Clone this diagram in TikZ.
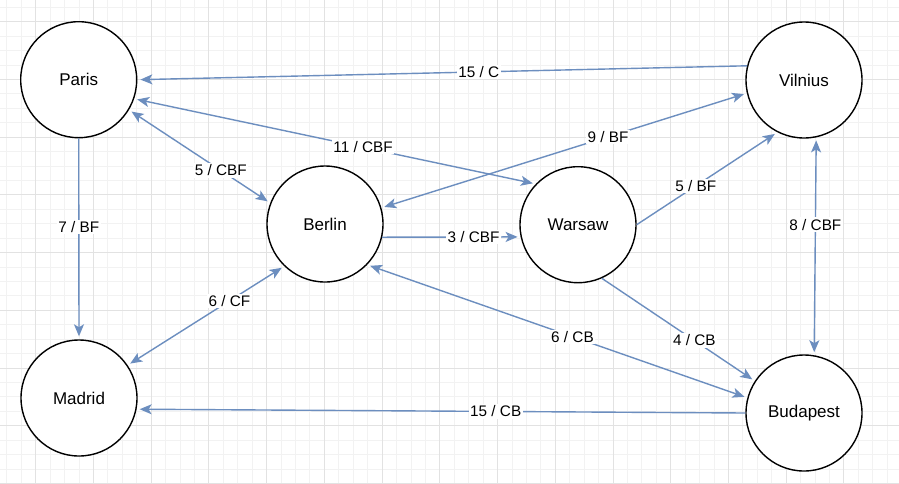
\documentclass[tikz,border=0pt]{standalone}
\usepackage{fontspec}
\setmainfont{Liberation Sans}
\usetikzlibrary{arrows.meta}
\definecolor{edgeblue}{HTML}{6C8EBF}
\definecolor{gridminor}{HTML}{F2F2F2}
\definecolor{gridmajor}{HTML}{E2E2E2}
\begin{document}
\begin{tikzpicture}[x=1pt,y=-1pt,
  city/.style={circle,draw=black,line width=1.4pt,fill=white,minimum size=116pt,inner sep=0pt,font=\fontsize{17}{20}\selectfont},
  tipstyle/.style={},
  link/.style={draw=edgeblue,line width=1.4pt,shorten >=3pt,-{Stealth[length=12pt,width=10pt,inset=3pt]}},
  blink/.style={draw=edgeblue,line width=1.4pt,shorten >=3pt,shorten <=3pt,{Stealth[length=12pt,width=10pt,inset=3pt]}-{Stealth[length=12pt,width=10pt,inset=3pt]}},
  lbl/.style={fill=white,inner sep=1.5pt,font=\fontsize{15.3}{18}\selectfont,text=black}]
\fill[white] (0,0) rectangle (899,483);
\useasboundingbox (0,0) rectangle (899,483);
% grid
\foreach \k in {0,...,61} {
  \pgfmathsetmacro{\xx}{6.86+14.43*\k}
  \draw[gridminor,line width=0.8pt] (\xx,0) -- (\xx,483);
}
\foreach \k in {0,...,33} {
  \pgfmathsetmacro{\yy}{7.27+14.43*\k}
  \draw[gridminor,line width=0.8pt] (0,\yy) -- (899,\yy);
}
\foreach \k in {0,...,15} {
  \pgfmathsetmacro{\xx}{35.72+57.72*\k}
  \draw[gridmajor,line width=0.8pt] (\xx,0) -- (\xx,483);
}
\foreach \k in {0,...,8} {
  \pgfmathsetmacro{\yy}{21.7+57.72*\k}
  \draw[gridmajor,line width=0.8pt] (0,\yy) -- (899,\yy);
}
% nodes
\node[city] (Paris) at (78.7,79.7) {Paris};
\node[city] (Vilnius) at (804,80) {Vilnius};
\node[city] (Berlin) at (325,224) {Berlin};
\node[city] (Warsaw) at (578,224.7) {Warsaw};
\node[city] (Madrid) at (79,398) {Madrid};
\node[city] (Budapest) at (804,413) {Budapest};
% edges
\draw[link] (Vilnius.166) -- node[lbl,pos=0.44] {15 / C} (Paris.0);
\draw[blink] (Paris.-31) -- node[lbl,pos=0.65] {5 / CBF} (Berlin.159);
\draw[blink] (Paris.-19) -- node[lbl,pos=0.57] {11 / CBF} (Warsaw.136);
\draw[blink] (Berlin.16) -- node[lbl,pos=0.62] {9 / BF} (Vilnius.193);
\draw[link] (Berlin.-13) -- node[lbl,pos=0.66] {3 / CBF} (Warsaw.192);
\draw[link] (Warsaw.0) -- node[lbl,pos=0.42] {5 / BF} (Vilnius.-117);
\draw[blink] (Vilnius.-78) -- node[lbl,pos=0.40] {8 / CBF} (Budapest.80);
\draw[link] (Paris.-90) -- node[lbl,pos=0.44] {7 / BF} (Madrid.90);
\draw[blink] (Madrid.34) -- node[lbl,pos=0.65] {6 / CF} (Berlin.226);
\draw[link] (Budapest.180) -- node[lbl,pos=0.41] {15 / CB} (Madrid.-11);
\draw[blink] (Berlin.-44) -- node[lbl,pos=0.54] {6 / CB} (Budapest.165);
\draw[link] (Warsaw.-66) -- node[lbl,pos=0.605] {4 / CB} (Budapest.147);
\end{tikzpicture}
\end{document}
